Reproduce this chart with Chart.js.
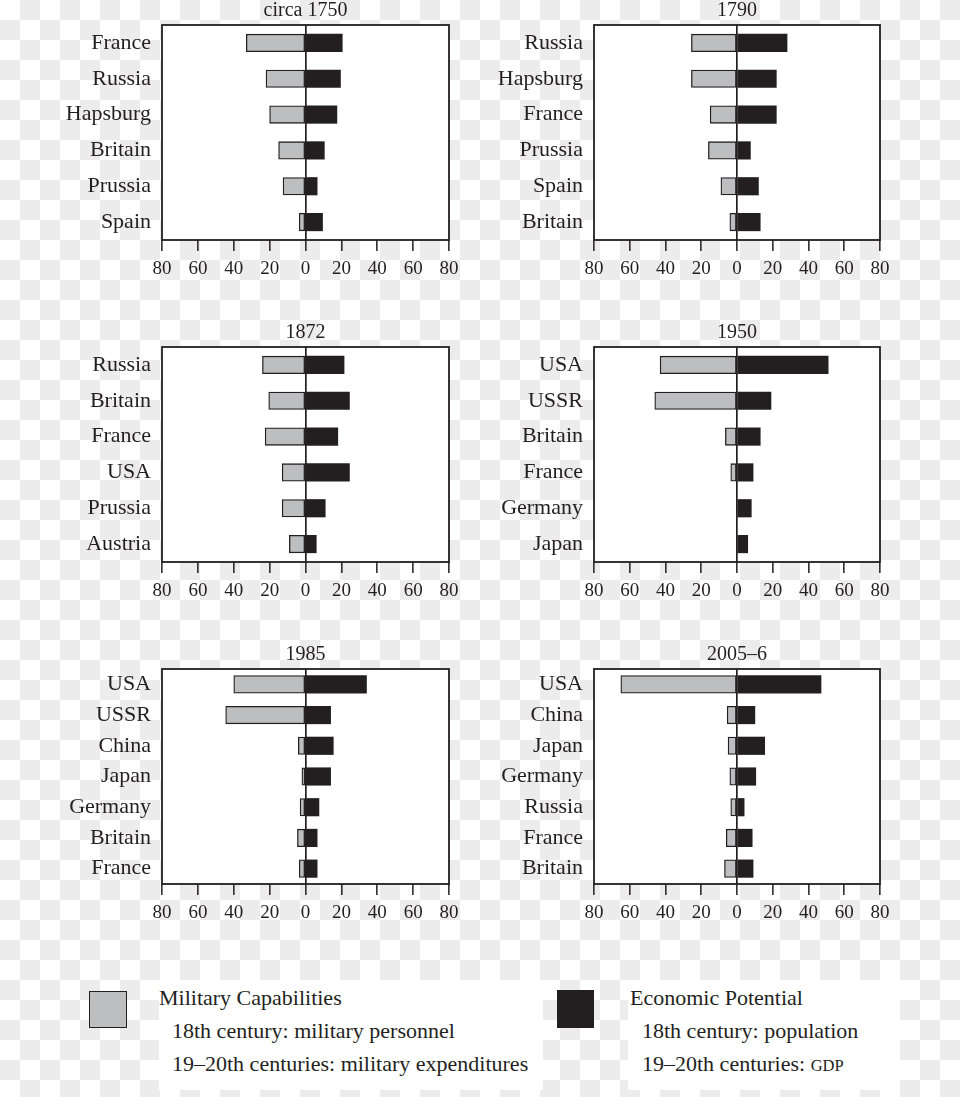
<!DOCTYPE html>
<html><head><meta charset="utf-8">
<script src="https://cdn.jsdelivr.net/npm/chart.js@4"></script>
<style>
html,body{margin:0;padding:0;}
body{width:960px;height:1097px;position:relative;overflow:hidden;
background:repeating-conic-gradient(#ececec 0 25%, #ffffff 0 50%) 0 0/40px 40px;
font-family:"Liberation Serif",serif;color:#231f20;}
canvas{position:absolute;}
.box{position:absolute;background:#fff;}
.sw{position:absolute;box-sizing:border-box;}
.t{position:absolute;font-size:22px;line-height:33px;white-space:nowrap;}
.sc{font-size:16.5px;}
</style></head><body>
<canvas id="c0" width="480" height="285" style="left:0;top:0"></canvas>
<canvas id="c1" width="480" height="285" style="left:480px;top:0"></canvas>
<canvas id="c2" width="480" height="285" style="left:0;top:322px"></canvas>
<canvas id="c3" width="480" height="285" style="left:480px;top:322px"></canvas>
<canvas id="c4" width="480" height="285" style="left:0;top:644px"></canvas>
<canvas id="c5" width="480" height="285" style="left:480px;top:644px"></canvas>

<div class="box" style="left:159px;top:980px;width:384px;height:110px"></div>
<div class="box" style="left:628px;top:980px;width:272px;height:110px"></div>
<div class="sw" style="left:89px;top:991px;width:38px;height:37px;background:#bcbec0;border:1.5px solid #231f20"></div>
<div class="sw" style="left:557px;top:990px;width:37px;height:38px;background:#231f20"></div>
<div class="t" style="left:159px;top:981px">Military Capabilities</div>
<div class="t" style="left:172px;top:1014px">18th century: military personnel</div>
<div class="t" style="left:172px;top:1047px">19–20th centuries: military expenditures</div>
<div class="t" style="left:630px;top:981px">Economic Potential</div>
<div class="t" style="left:642px;top:1014px">18th century: population</div>
<div class="t" style="left:642px;top:1047px">19–20th centuries: <span class="sc">GDP</span></div>

<script>
// ---- data ----
const titles = ['circa 1750', '1790', '1872', '1950', '1985', '2005–6'];

const countries1750 = ['France', 'Russia', 'Hapsburg', 'Britain', 'Prussia', 'Spain'];
const military1750  = [33, 22, 20, 15, 12.5, 3.5];
const economic1750  = [20.5, 19.5, 17.5, 10.5, 6.5, 9.5];

const countries1790 = ['Russia', 'Hapsburg', 'France', 'Prussia', 'Spain', 'Britain'];
const military1790  = [25.5, 25.5, 15, 16, 9, 4];
const economic1790  = [28, 22, 22, 7.5, 12, 13];

const countries1872 = ['Russia', 'Britain', 'France', 'USA', 'Prussia', 'Austria'];
const military1872  = [24, 20.5, 22.5, 13, 13, 9];
const economic1872  = [21.5, 24.5, 18, 24.5, 11, 6];

const countries1950 = ['USA', 'USSR', 'Britain', 'France', 'Germany', 'Japan'];
const military1950  = [43, 46, 6.5, 3.5, 0, 0];
const economic1950  = [51, 19, 13, 9, 8, 6];

const countries1985 = ['USA', 'USSR', 'China', 'Japan', 'Germany', 'Britain', 'France'];
const military1985  = [40, 44.5, 4, 2, 3, 4.5, 3.5];
const economic1985  = [34, 14, 15.5, 14, 7.5, 6.5, 6.5];

const countries2005 = ['USA', 'China', 'Japan', 'Germany', 'Russia', 'France', 'Britain'];
const military2005  = [65, 5.5, 5, 4, 3.5, 6, 7];
const economic2005  = [47, 10, 15.5, 10.5, 4, 8.5, 9];

const xTickMin = -80, xTickMax = 80, xTickStep = 20;
const seriesNames = ['Military Capabilities', 'Economic Potential'];

// ---- layout / style ----
const INK = '#231f20', GREY = '#bcbec0';
const FONT = '"Liberation Serif", "Times New Roman", serif';
const panelData = [
  [titles[0], countries1750, military1750, economic1750],
  [titles[1], countries1790, military1790, economic1790],
  [titles[2], countries1872, military1872, economic1872],
  [titles[3], countries1950, military1950, economic1950],
  [titles[4], countries1985, military1985, economic1985],
  [titles[5], countries2005, military2005, economic2005]
];

const framePlugin = {
  id: 'frame',
  beforeDraw(chart) {
    const {ctx, chartArea: a} = chart;
    ctx.save();
    ctx.fillStyle = '#ffffff';
    ctx.fillRect(a.left, a.top, a.right - a.left, a.bottom - a.top);
    ctx.restore();
  },
  afterDatasetsDraw(chart) {
    const {ctx, chartArea: a} = chart;
    ctx.save();
    ctx.strokeStyle = INK;
    ctx.lineWidth = 1.8;
    ctx.strokeRect(a.left, a.top, a.right - a.left, a.bottom - a.top);
    ctx.restore();
  },
  afterDraw(chart) {
    const {ctx, chartArea: a} = chart;
    const t = chart.options.plugins.panelTitle.text;
    ctx.save();
    ctx.fillStyle = INK;
    ctx.font = '20px ' + FONT;
    ctx.textAlign = 'center';
    ctx.textBaseline = 'alphabetic';
    ctx.fillText(t, (a.left + a.right) / 2, a.top - 9);
    ctx.restore();
  }
};

panelData.forEach((p, i) => {
  const [title, labels, mil, eco] = p;
  const isRight = i % 2 === 1;
  const yWidth = isRight ? 114 : 162;
  const padRight = isRight ? 80 : 31;
  new Chart(document.getElementById('c' + i), {
    type: 'bar',
    data: {
      labels: labels,
      datasets: [
        {label: seriesNames[0], data: mil.map(v => -v), backgroundColor: GREY,
         borderColor: INK, borderWidth: 1.3, borderSkipped: false, barThickness: 17.5, stack: 's'},
        {label: seriesNames[1], data: eco, backgroundColor: INK,
         borderWidth: 0, barThickness: 17.5, stack: 's'}
      ]
    },
    options: {
      indexAxis: 'y',
      responsive: false,
      animation: false,
      layout: {padding: {top: 25, right: padRight, left: 0, bottom: 0}},
      plugins: {legend: {display: false}, tooltip: {enabled: false}, panelTitle: {text: title}},
      scales: {
        x: {
          type: 'linear', stacked: true, min: xTickMin, max: xTickMax,
          ticks: {stepSize: xTickStep, callback: v => Math.abs(v), color: INK,
                  font: {family: FONT, size: 19}, padding: 7, maxRotation: 0, autoSkip: false},
          grid: {color: c => (c.tick && c.tick.value === 0) ? INK : 'rgba(0,0,0,0)',
                 lineWidth: 1.7, tickColor: INK, tickLength: 11, tickWidth: 1.5},
          border: {display: false},
          afterFit(s) { s.height = 45; }
        },
        y: {
          stacked: true,
          ticks: {color: INK, font: {family: FONT, size: 22}, padding: 11, autoSkip: false},
          grid: {display: false, drawTicks: false, tickLength: 0},
          border: {display: false},
          afterFit(s) { s.width = yWidth; }
        }
      }
    },
    plugins: [framePlugin]
  });
});
</script>
</body></html>
